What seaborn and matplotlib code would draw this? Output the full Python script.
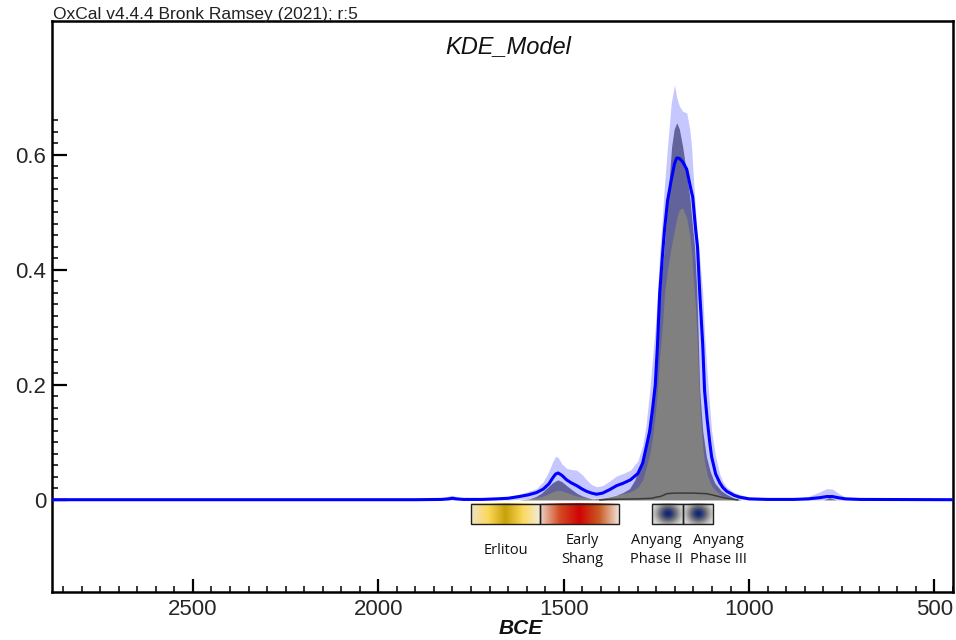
import numpy as np
import matplotlib
matplotlib.use("Agg")
import matplotlib.pyplot as plt
import seaborn as sns
from matplotlib.colors import LinearSegmentedColormap
from matplotlib.patches import Rectangle
from matplotlib.ticker import FixedLocator, MultipleLocator

# KDE model: years (BCE), upper 1-sigma, mean, lower 1-sigma
kde_years = [2880, 2400, 1900, 1830, 1810, 1800, 1790, 1770, 1720, 1680, 1650, 1620, 1595,
             1573, 1555, 1540, 1530, 1522, 1515, 1505, 1492, 1480, 1465, 1450, 1438, 1425,
             1411, 1395, 1376, 1357, 1340, 1320, 1300, 1287, 1278, 1268, 1260, 1253, 1247,
             1241, 1233, 1228, 1220, 1210, 1201, 1195, 1188, 1179, 1168, 1160, 1155, 1152,
             1144, 1139, 1133, 1125, 1120, 1113, 1106, 1101, 1090, 1079, 1071, 1060, 1040,
             1026, 1000, 950, 880, 840, 810, 790, 775, 760, 740, 700, 450]
kde_upper = [0.001, 0.001, 0.001, 0.002, 0.007, 0.008, 0.006, 0.002, 0.002, 0.004, 0.006, 0.010, 0.015,
             0.020, 0.032, 0.050, 0.066, 0.076, 0.074, 0.063, 0.055, 0.053, 0.052, 0.044, 0.035, 0.027,
             0.023, 0.025, 0.033, 0.042, 0.046, 0.052, 0.068, 0.095, 0.13, 0.19, 0.25, 0.30, 0.36,
             0.43, 0.50, 0.55, 0.614, 0.69, 0.722, 0.70, 0.685, 0.676, 0.673, 0.645, 0.614, 0.58,
             0.50, 0.46, 0.42, 0.36, 0.29, 0.22, 0.16, 0.12, 0.075, 0.045, 0.032, 0.022, 0.013,
             0.010, 0.004, 0.002, 0.002, 0.006, 0.014, 0.020, 0.019, 0.012, 0.005, 0.002, 0.001]
kde_mean = [0.0005, 0.0005, 0.0005, 0.001, 0.002, 0.003, 0.002, 0.001, 0.001, 0.002, 0.003, 0.006, 0.009,
            0.013, 0.019, 0.028, 0.038, 0.045, 0.047, 0.043, 0.035, 0.030, 0.025, 0.019, 0.015, 0.012,
            0.010, 0.012, 0.018, 0.025, 0.029, 0.035, 0.046, 0.064, 0.09, 0.12, 0.16, 0.20, 0.27,
            0.36, 0.43, 0.47, 0.52, 0.556, 0.585, 0.595, 0.594, 0.588, 0.575, 0.55, 0.535, 0.527,
            0.47, 0.44, 0.36, 0.27, 0.19, 0.14, 0.10, 0.075, 0.045, 0.03, 0.022, 0.015, 0.008,
            0.005, 0.002, 0.001, 0.001, 0.002, 0.004, 0.006, 0.006, 0.004, 0.002, 0.001, 0.0005]
kde_lower = [0, 0, 0, 0, 0, 0, 0, 0, 0, 0, 0, 0.001, 0.002,
             0.004, 0.007, 0.011, 0.014, 0.016, 0.017, 0.016, 0.013, 0.010, 0.007, 0.005, 0.004, 0.003,
             0.003, 0.004, 0.006, 0.009, 0.011, 0.014, 0.022, 0.035, 0.055, 0.08, 0.11, 0.15, 0.19,
             0.25, 0.31, 0.36, 0.40, 0.44, 0.47, 0.49, 0.505, 0.508, 0.49, 0.46, 0.43, 0.40,
             0.33, 0.26, 0.16, 0.09, 0.065, 0.045, 0.032, 0.025, 0.016, 0.010, 0.007, 0.004, 0.002,
             0.001, 0, 0, 0, 0, 0, 0.001, 0.001, 0, 0, 0, 0]

# summed (unmodelled) distribution
sum_years = [2880, 1620, 1592, 1575, 1560, 1545, 1530, 1516, 1505, 1492, 1480, 1465, 1450, 1435,
             1422, 1400, 1380, 1360, 1340, 1322, 1308, 1295, 1282, 1270, 1258, 1249, 1240, 1230,
             1222, 1215, 1209, 1202, 1195, 1188, 1179, 1170, 1160, 1147, 1141, 1137, 1133, 1125,
             1115, 1105, 1093, 1075, 1061, 1040, 1020, 800, 783, 765, 450]
sum_vals = [0, 0, 0.002, 0.006, 0.012, 0.021, 0.030, 0.035, 0.032, 0.025, 0.019, 0.012, 0.007, 0.004,
            0.002, 0.003, 0.005, 0.008, 0.013, 0.020, 0.035, 0.058, 0.085, 0.13, 0.19, 0.27, 0.36, 0.43,
            0.50, 0.56, 0.614, 0.645, 0.656, 0.645, 0.614, 0.575, 0.527, 0.44, 0.365, 0.28, 0.19, 0.12,
            0.075, 0.05, 0.03, 0.016, 0.01, 0.003, 0, 0, 0.004, 0, 0]

# thin distribution near baseline
oth_years = [1403, 1380, 1300, 1262, 1250, 1240, 1232, 1222, 1200, 1150, 1115, 1100, 1088, 1075,
             1061, 1040, 1030]
oth_vals = [0, 0.001, 0.002, 0.003, 0.005, 0.006, 0.008, 0.011, 0.012, 0.012, 0.011, 0.009, 0.007,
            0.005, 0.003, 0.001, 0]

# phases
phase_names = ["Erlitou", "Early\nShang", "Anyang\nPhase II", "Anyang\nPhase III"]
phase_start = [1751, 1565, 1263, 1179]
phase_end = [1565, 1352, 1179, 1098]
label_x = [1656, 1449, 1249, 1083]
phase_colors = [
    ["#efe2c6", "#fcd85a", "#c9a008", "#fcd85a", "#f3ead8"],
    ["#ead4c6", "#d44a22", "#d00404", "#c85a22", "#f1e2d6"],
    ["#101e6a", "#2c3e78", "#6e6e74", "#a8a8a8", "#d4d4d4"],
    ["#101e6a", "#2c3e78", "#6e6e74", "#a8a8a8", "#d4d4d4"],
]

sns.set_theme(style="white")
plt.rcParams['font.family'] = ['Liberation Sans', 'DejaVu Sans']

fig = plt.figure(figsize=(9.56, 6.4), dpi=100)
ax = fig.add_axes([52 / 956, 1 - 592 / 640, (953 - 52) / 956, (592 - 21) / 640])

ax.fill_between(sum_years, 0, sum_vals, color="#808080", lw=0, zorder=1)
ax.fill_between(kde_years, kde_lower, kde_upper, color="#0000ff", alpha=0.22, lw=0, zorder=2)
sns.lineplot(x=oth_years, y=oth_vals, color="#3a3a3a", lw=1.1, ax=ax, zorder=3)
sns.lineplot(x=kde_years, y=kde_mean, color="#0000ff", lw=2.2, ax=ax, zorder=4)

# phase boxes with colour gradients
y0, y1 = -0.042, -0.007
for i in range(len(phase_names)):
    cmap = LinearSegmentedColormap.from_list(f"ph{i}", phase_colors[i])
    if i < 2:
        grad = np.linspace(0, 1, 256)[None, :]
    else:
        gx, gy = np.meshgrid(np.linspace(-1, 1, 80), np.linspace(-1, 1, 60))
        grad = np.clip(np.sqrt(gx ** 2 + (gy * 0.75) ** 2), 0, 1)
    ax.imshow(grad, extent=[phase_start[i], phase_end[i], y0, y1], aspect="auto",
              cmap=cmap, zorder=5, interpolation="bilinear")
    ax.add_patch(Rectangle((phase_end[i], y0), phase_start[i] - phase_end[i], y1 - y0,
                           fill=False, ec="#202020", lw=1.0, zorder=6))
    ax.text(label_x[i], -0.087, phase_names[i], ha="center", va="center", fontsize=10.5,
            linespacing=1.35, family=["Open Sans", "DejaVu Sans"], color="#111111", zorder=7)

ax.set_xlim(2880, 450)
ax.set_ylim(-0.160, 0.833)

ax.xaxis.set_major_locator(FixedLocator([2500, 2000, 1500, 1000, 500]))
ax.xaxis.set_minor_locator(MultipleLocator(50))
ax.set_xticklabels(["2500", "2000", "1500", "1000", "500"])
ax.yaxis.set_major_locator(FixedLocator([0, 0.2, 0.4, 0.6]))
ax.yaxis.set_minor_locator(FixedLocator(np.arange(0, 0.67, 0.02)))
ax.set_yticklabels(["0", "0.2", "0.4", "0.6"])

ax.tick_params(axis="x", which="major", direction="in", length=9.5, width=1.6,
               labelsize=16, pad=5, bottom=True, top=False, color="black")
ax.tick_params(axis="x", which="minor", direction="in", length=4.5, width=1.1,
               bottom=True, top=False, color="black")
ax.tick_params(axis="y", which="major", direction="in", length=11, width=1.6,
               labelsize=16, pad=4, left=True, right=False, color="black")
ax.tick_params(axis="y", which="minor", direction="in", length=4.5, width=1.1,
               left=True, right=False, color="black")
for s in ax.spines.values():
    s.set_color("black")
    s.set_linewidth(1.8)
ax.set_xlabel("")
ax.set_ylabel("")
ax.grid(False)

fig.text(508 / 956, 1 - 47 / 640, "KDE_Model", ha="center", va="center",
         fontsize=17, style="italic", color="#111111")
fig.text(53 / 956, 1 - 19 / 640, "OxCal v4.4.4 Bronk Ramsey (2021); r:5", ha="left",
         va="baseline", fontsize=12.5, color="#222222")
fig.text(521 / 956, 1 - 628 / 640, "BCE", ha="center", va="center", fontsize=15,
         weight="bold", style="italic", color="#111111")

fig.savefig("out.png", dpi=100)
